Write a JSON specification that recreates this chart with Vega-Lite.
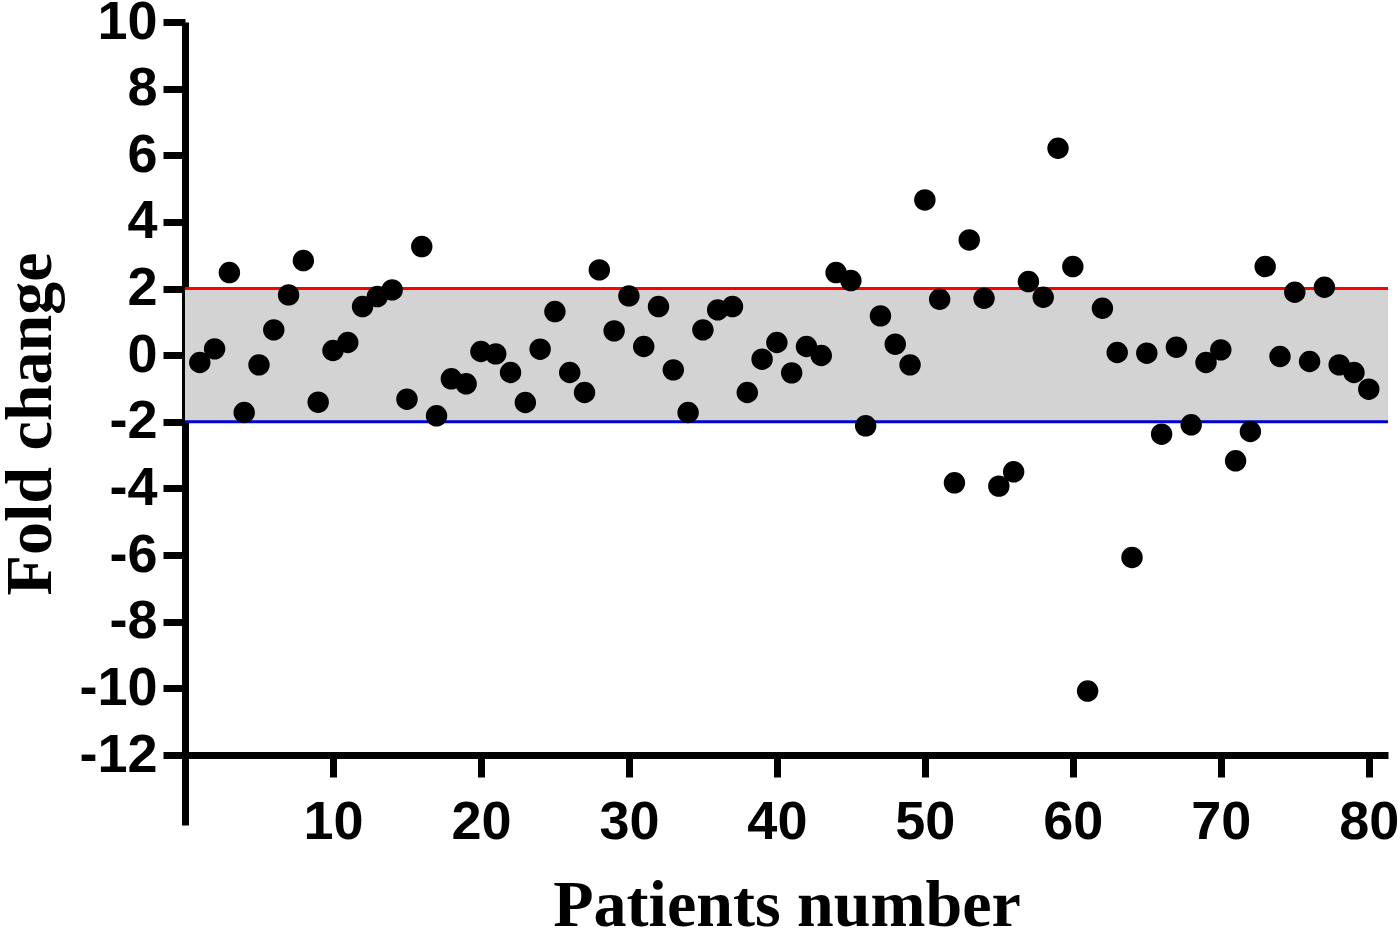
{
  "$schema": "https://vega.github.io/schema/vega-lite/v6.json",
  "autosize": "none",
  "width": 1203,
  "height": 803,
  "padding": {"left": 185, "top": 22, "right": 12, "bottom": 107},
  "background": "white",
  "config": {
    "view": {"stroke": null},
    "axis": {
      "grid": false,
      "domainColor": "black",
      "domainWidth": 7,
      "tickColor": "black",
      "tickWidth": 7,
      "tickSize": 22,
      "labelFont": "Liberation Sans",
      "labelFontWeight": "bold",
      "labelFontSize": 54,
      "labelColor": "black",
      "labelExpr": "toString(datum.value)",
      "titleFont": "Liberation Serif",
      "titleFontWeight": "bold",
      "titleFontSize": 66,
      "titleColor": "black"
    }
  },
  "datasets": {
    "band": [{"x0": 0, "x1": 81.3, "lo": -2, "hi": 2}],
    "points": [
      {"patient": 1, "fold": -0.22}, {"patient": 2, "fold": 0.19}, {"patient": 3, "fold": 2.48}, {"patient": 4, "fold": -1.72},
      {"patient": 5, "fold": -0.29}, {"patient": 6, "fold": 0.76}, {"patient": 7, "fold": 1.81}, {"patient": 8, "fold": 2.84},
      {"patient": 9, "fold": -1.41}, {"patient": 10, "fold": 0.14}, {"patient": 11, "fold": 0.38}, {"patient": 12, "fold": 1.46},
      {"patient": 13, "fold": 1.76}, {"patient": 14, "fold": 1.96}, {"patient": 15, "fold": -1.32}, {"patient": 16, "fold": 3.26},
      {"patient": 17, "fold": -1.82}, {"patient": 18, "fold": -0.71}, {"patient": 19, "fold": -0.86}, {"patient": 20, "fold": 0.11},
      {"patient": 21, "fold": 0.04}, {"patient": 22, "fold": -0.52}, {"patient": 23, "fold": -1.42}, {"patient": 24, "fold": 0.18},
      {"patient": 25, "fold": 1.31}, {"patient": 26, "fold": -0.52}, {"patient": 27, "fold": -1.12}, {"patient": 28, "fold": 2.56},
      {"patient": 29, "fold": 0.73}, {"patient": 30, "fold": 1.78}, {"patient": 31, "fold": 0.26}, {"patient": 32, "fold": 1.46},
      {"patient": 33, "fold": -0.44}, {"patient": 34, "fold": -1.72}, {"patient": 35, "fold": 0.76}, {"patient": 36, "fold": 1.36},
      {"patient": 37, "fold": 1.46}, {"patient": 38, "fold": -1.12}, {"patient": 39, "fold": -0.12}, {"patient": 40, "fold": 0.38},
      {"patient": 41, "fold": -0.53}, {"patient": 42, "fold": 0.26}, {"patient": 43, "fold": -0.01}, {"patient": 44, "fold": 2.48},
      {"patient": 45, "fold": 2.24}, {"patient": 46, "fold": -2.12}, {"patient": 47, "fold": 1.18}, {"patient": 48, "fold": 0.33},
      {"patient": 49, "fold": -0.29}, {"patient": 50, "fold": 4.66}, {"patient": 51, "fold": 1.68}, {"patient": 52, "fold": -3.83},
      {"patient": 53, "fold": 3.46}, {"patient": 54, "fold": 1.71}, {"patient": 55, "fold": -3.93}, {"patient": 56, "fold": -3.5},
      {"patient": 57, "fold": 2.21}, {"patient": 58, "fold": 1.74}, {"patient": 59, "fold": 6.21}, {"patient": 60, "fold": 2.66},
      {"patient": 61, "fold": -10.08}, {"patient": 62, "fold": 1.41}, {"patient": 63, "fold": 0.08}, {"patient": 64, "fold": -6.07},
      {"patient": 65, "fold": 0.06}, {"patient": 66, "fold": -2.37}, {"patient": 67, "fold": 0.24}, {"patient": 68, "fold": -2.09},
      {"patient": 69, "fold": -0.22}, {"patient": 70, "fold": 0.16}, {"patient": 71, "fold": -3.17}, {"patient": 72, "fold": -2.29},
      {"patient": 73, "fold": 2.66}, {"patient": 74, "fold": -0.04}, {"patient": 75, "fold": 1.89}, {"patient": 76, "fold": -0.19},
      {"patient": 77, "fold": 2.04}, {"patient": 78, "fold": -0.29}, {"patient": 79, "fold": -0.52}, {"patient": 80, "fold": -1.02}
    ]
  },
  "layer": [
    {
      "data": {"name": "band"},
      "mark": {"type": "rect", "color": "#d3d3d3"},
      "encoding": {
        "x": {"field": "x0", "type": "quantitative", "scale": {"domain": [0, 81.3], "nice": false, "zero": false},
              "axis": {"values": [10, 20, 30, 40, 50, 60, 70, 80], "title": "Patients number", "offset": -70, "labelPadding": 18, "titlePadding": 24}},
        "x2": {"field": "x1"},
        "y": {"field": "lo", "type": "quantitative", "scale": {"domain": [-14.1, 10], "nice": false, "zero": false},
              "axis": {"values": [-12, -10, -8, -6, -4, -2, 0, 2, 4, 6, 8, 10], "title": "Fold change", "labelPadding": 6, "titlePadding": 14}},
        "y2": {"field": "hi"}
      }
    },
    {
      "data": {"name": "band"},
      "mark": {"type": "rule", "color": "#ff0000", "strokeWidth": 3},
      "encoding": {
        "x": {"field": "x0", "type": "quantitative"},
        "x2": {"field": "x1"},
        "y": {"field": "hi", "type": "quantitative"}
      }
    },
    {
      "data": {"name": "band"},
      "mark": {"type": "rule", "color": "#0000d0", "strokeWidth": 3},
      "encoding": {
        "x": {"field": "x0", "type": "quantitative"},
        "x2": {"field": "x1"},
        "y": {"field": "lo", "type": "quantitative"}
      }
    },
    {
      "data": {"name": "points"},
      "mark": {"type": "point", "shape": "circle", "filled": true, "color": "black", "opacity": 1, "size": 460},
      "encoding": {
        "x": {"field": "patient", "type": "quantitative"},
        "y": {"field": "fold", "type": "quantitative"}
      }
    }
  ]
}
